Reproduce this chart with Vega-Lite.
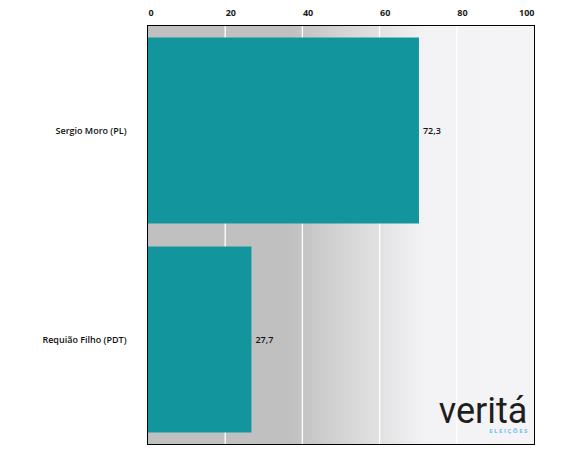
{
  "$schema": "https://vega.github.io/schema/vega-lite/v6.json",
  "width": 386,
  "height": 418,
  "autosize": "none",
  "padding": {"left": 148, "top": 26, "right": 48, "bottom": 10},
  "background": "#ffffff",
  "config": {"view": {"stroke": "#000000", "strokeWidth": 2}, "font": "Open Sans"},
  "datasets": {
    "votes": [
      {"candidato": "Sergio Moro (PL)", "barra": 70.2, "rotulo": "72,3"},
      {"candidato": "Requião Filho (PDT)", "barra": 26.8, "rotulo": "27,7"}
    ],
    "grade": [{"v": 20}, {"v": 40}, {"v": 60}, {"v": 80}],
    "fundo": [{"a": 0, "b": 100}],
    "marca": [{"t": "veritá", "s": "E L E I Ç Õ E S"}]
  },
  "layer": [
    {
      "data": {"name": "fundo"},
      "mark": {"type": "rect", "fill": {"gradient": "linear", "x1": 0, "y1": 0, "x2": 1, "y2": 0, "stops": [{"offset": 0, "color": "#c0c0c0"}, {"offset": 0.37, "color": "#c0c0c0"}, {"offset": 0.72, "color": "#f3f3f5"}, {"offset": 1, "color": "#f4f4f6"}]}},
      "encoding": {
        "x": {"field": "a", "type": "quantitative", "title": null, "scale": {"domain": [0, 100], "nice": false}, "axis": {"orient": "top", "title": null, "values": [0, 20, 40, 60, 80, 100], "domain": false, "ticks": false, "tickSize": 0, "grid": false, "labelPadding": 9, "labelFontSize": 9, "labelFontWeight": "bold", "labelColor": "#1a1a1a", "labelFlush": false, "labelAlign": {"condition": {"test": "datum.value == 100", "value": "right"}, "value": "left"}, "labelDx": 3}},
        "x2": {"field": "b"}
      }
    },
    {
      "data": {"name": "grade"},
      "mark": {"type": "rule", "color": "#ffffff", "strokeWidth": 1.3},
      "encoding": {"x": {"field": "v", "type": "quantitative", "title": null}}
    },
    {
      "data": {"name": "votes"},
      "mark": {"type": "bar", "color": "#13959d"},
      "encoding": {
        "y": {"field": "candidato", "type": "nominal", "sort": null, "scale": {"paddingInner": 0.11, "paddingOuter": 0.055}, "axis": {"title": null, "domain": false, "ticks": false, "labelPadding": 22, "labelFontSize": 9, "labelFontWeight": 600, "labelColor": "#111111"}},
        "x": {"field": "barra", "type": "quantitative", "title": null}
      }
    },
    {
      "data": {"name": "votes"},
      "mark": {"type": "text", "align": "left", "baseline": "middle", "dx": 4, "fontSize": 9, "fontWeight": 600, "color": "#111111"},
      "encoding": {
        "y": {"field": "candidato", "type": "nominal", "sort": null},
        "x": {"field": "barra", "type": "quantitative", "title": null},
        "text": {"field": "rotulo"}
      }
    },
    {
      "data": {"name": "marca"},
      "mark": {"type": "text", "align": "right", "baseline": "alphabetic", "dy": 83, "font": "Roboto", "fontSize": 36, "fontWeight": 400, "color": "#1e1e1e"},
      "encoding": {
        "y": {"datum": "Requião Filho (PDT)", "type": "nominal"},
        "x": {"datum": 98.3, "type": "quantitative", "title": null},
        "text": {"field": "t"}
      }
    },
    {
      "data": {"name": "marca"},
      "mark": {"type": "text", "align": "right", "baseline": "alphabetic", "dy": 93, "font": "Open Sans", "fontSize": 6, "fontWeight": "bold", "color": "#6cc0ee"},
      "encoding": {
        "y": {"datum": "Requião Filho (PDT)", "type": "nominal"},
        "x": {"datum": 98.3, "type": "quantitative", "title": null},
        "text": {"field": "s"}
      }
    }
  ]
}
